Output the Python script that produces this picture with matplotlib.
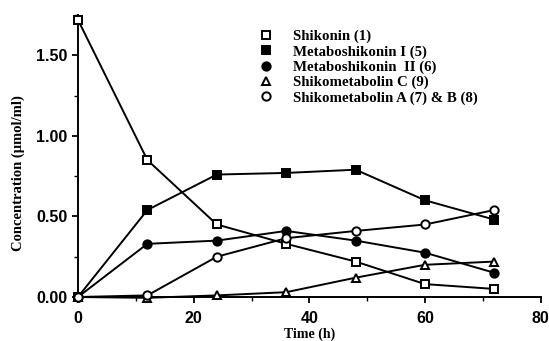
import matplotlib
matplotlib.use("Agg")
import matplotlib.pyplot as plt
from matplotlib.ticker import MultipleLocator, FormatStrFormatter
from matplotlib.lines import Line2D

time_h = [0, 12, 24, 36, 48, 60, 72]
shikonin = [1.72, 0.85, 0.45, 0.33, 0.22, 0.08, 0.05]
metabo_I = [0.0, 0.54, 0.76, 0.77, 0.79, 0.60, 0.48]
metabo_II = [0.0, 0.33, 0.35, 0.41, 0.35, 0.275, 0.15]
shikometabolin_C = [0.0, -0.005, 0.01, 0.03, 0.12, 0.20, 0.22]
shikometabolin_AB = [0.0, 0.01, 0.25, 0.365, 0.41, 0.45, 0.54]

labels = ["Shikonin (1)", "Metaboshikonin I (5)", "Metaboshikonin  II (6)",
          "Shikometabolin C (9)", "Shikometabolin A (7) & B (8)"]

series = [
    (shikonin, "s", "white"),
    (metabo_I, "s", "black"),
    (metabo_II, "o", "black"),
    (shikometabolin_C, "^", "white"),
    (shikometabolin_AB, "o", "white"),
]

fig = plt.figure(figsize=(5.49, 3.41), dpi=100)
ax = fig.add_axes([0.142, 0.129, 0.843, 0.827])

for vals, m, fc in series:
    ax.plot(time_h, vals, color="black", lw=1.4, marker=m, markersize=6,
            markerfacecolor=fc, markeredgecolor="black", markeredgewidth=1.4,
            clip_on=False, zorder=3)

ax.set_xlim(0, 80)
ax.set_ylim(0, 1.75)
for s in ["top", "right"]:
    ax.spines[s].set_visible(False)
for s in ["left", "bottom"]:
    ax.spines[s].set_linewidth(1.4)

ax.xaxis.set_major_locator(MultipleLocator(20))
ax.xaxis.set_minor_locator(MultipleLocator(10))
ax.yaxis.set_major_locator(MultipleLocator(0.5))
ax.yaxis.set_minor_locator(MultipleLocator(0.25))
ax.yaxis.set_major_formatter(FormatStrFormatter("%.2f"))
ax.tick_params(which="major", direction="out", length=4, width=1.3,
               labelsize=11.5)
ax.tick_params(axis="x", which="major", pad=6)
ax.tick_params(which="minor", direction="out", length=3, width=1.0)
for lab in ax.get_xticklabels() + ax.get_yticklabels():
    lab.set_fontweight("bold")
    lab.set_family("Liberation Sans")

ax.set_xlabel("Time (h)", family="Liberation Serif", fontweight="bold",
              fontsize=10, labelpad=1)
ax.set_ylabel("Concentration (\u00b5mol/ml)", family="Liberation Serif",
              fontweight="bold", fontsize=10.5)
ax.yaxis.set_label_coords(-0.115, 0.44)

handles = [Line2D([], [], ls="none", marker=m, markersize=6,
                  markerfacecolor=fc, markeredgecolor="black",
                  markeredgewidth=1.4) for _, m, fc in series]
leg = ax.legend(handles, labels, loc="upper left",
                bbox_to_anchor=(0.46, 0.93), bbox_transform=fig.transFigure,
                frameon=False, handlelength=1.0, handletextpad=1.3,
                labelspacing=0.12, borderaxespad=0,
                prop={"family": "Liberation Serif", "weight": "bold",
                      "size": 10.7})

fig.savefig("out.png", dpi=100)
